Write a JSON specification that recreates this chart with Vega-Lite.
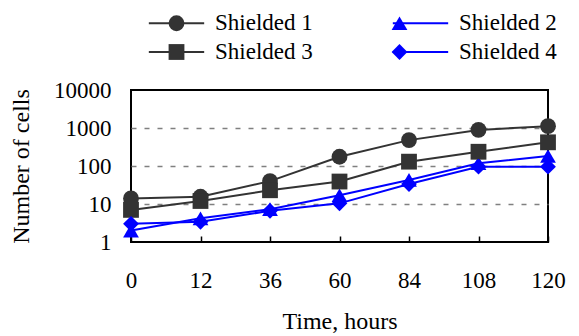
{
  "$schema": "https://vega.github.io/schema/vega-lite/v6.json",
  "autosize": {"type": "none"},
  "padding": {"left": 131, "top": 90, "right": 31, "bottom": 94},
  "width": 417,
  "height": 152,
  "background": "white",
  "config": {
    "view": {"stroke": "black", "strokeWidth": 2},
    "font": "Liberation Serif",
    "axis": {"labelFont": "Liberation Serif", "titleFont": "Liberation Serif", "labelFontSize": 23, "titleFontSize": 24, "titleFontWeight": "normal", "labelColor": "black", "titleColor": "black"}
  },
  "data": {
    "values": [
      {"time": 0, "series": "Shielded 1", "cells": 14},
      {"time": 12, "series": "Shielded 1", "cells": 15.5},
      {"time": 36, "series": "Shielded 1", "cells": 40},
      {"time": 60, "series": "Shielded 1", "cells": 175},
      {"time": 84, "series": "Shielded 1", "cells": 480},
      {"time": 108, "series": "Shielded 1", "cells": 890},
      {"time": 120, "series": "Shielded 1", "cells": 1120},
      {"time": 0, "series": "Shielded 2", "cells": 2},
      {"time": 12, "series": "Shielded 2", "cells": 4.2},
      {"time": 36, "series": "Shielded 2", "cells": 7.3},
      {"time": 60, "series": "Shielded 2", "cells": 17},
      {"time": 84, "series": "Shielded 2", "cells": 43},
      {"time": 108, "series": "Shielded 2", "cells": 118},
      {"time": 120, "series": "Shielded 2", "cells": 183},
      {"time": 0, "series": "Shielded 3", "cells": 7},
      {"time": 12, "series": "Shielded 3", "cells": 12},
      {"time": 36, "series": "Shielded 3", "cells": 23},
      {"time": 60, "series": "Shielded 3", "cells": 39},
      {"time": 84, "series": "Shielded 3", "cells": 130},
      {"time": 108, "series": "Shielded 3", "cells": 237},
      {"time": 120, "series": "Shielded 3", "cells": 420},
      {"time": 0, "series": "Shielded 4", "cells": 3},
      {"time": 12, "series": "Shielded 4", "cells": 3.4},
      {"time": 36, "series": "Shielded 4", "cells": 6.6},
      {"time": 60, "series": "Shielded 4", "cells": 10.4},
      {"time": 84, "series": "Shielded 4", "cells": 33.5},
      {"time": 108, "series": "Shielded 4", "cells": 96},
      {"time": 120, "series": "Shielded 4", "cells": 96}
    ]
  },
  "encoding": {
    "x": {
      "field": "time", "type": "ordinal",
      "scale": {"type": "point", "padding": 0},
      "axis": {"title": "Time, hours", "labelAngle": 0, "domain": false, "grid": false, "tickSize": -6, "tickColor": "black", "tickWidth": 1.5, "labelPadding": 33, "titlePadding": 17}
    },
    "y": {
      "field": "cells", "type": "quantitative",
      "scale": {"type": "log", "domain": [1, 10000], "nice": false},
      "axis": {"title": "Number of cells", "values": [1, 10, 100, 1000, 10000], "format": "d", "domain": false, "ticks": false, "labelPadding": 20, "titlePadding": 20, "grid": true, "gridColor": "#808080", "gridDash": [5, 8], "gridWidth": 1.5,
        "gridOpacity": {"condition": {"test": "datum.value == 1 || datum.value == 10000", "value": 0}, "value": 1}}
    }
  },
  "layer": [
    {
      "mark": {"type": "line", "strokeWidth": 2},
      "encoding": {
        "stroke": {
          "field": "series", "type": "nominal",
          "scale": {"range": ["#333333", "#0000ff", "#333333", "#0000ff"]},
          "legend": {"orient": "none", "direction": "horizontal", "legendX": 34, "legendY": -78.5, "columns": 2, "title": null, "symbolType": "M-3.5,0H3.5", "symbolSize": 250, "symbolStrokeWidth": 2, "labelFont": "Liberation Serif", "labelFontSize": 23, "labelColor": "black", "labelOffset": 27, "columnPadding": 75, "rowPadding": 5}
        }
      }
    },
    {
      "mark": {"type": "point", "filled": true, "size": 250, "opacity": 1},
      "encoding": {
        "fill": {
          "field": "series", "type": "nominal",
          "scale": {"domain": ["Shielded 1", "Shielded 2", "Shielded 3", "Shielded 4"], "range": ["#333333", "#0000ff", "#333333", "#0000ff"]},
          "legend": {"orient": "none", "direction": "horizontal", "legendX": 34, "legendY": -78.5, "columns": 2, "title": null, "symbolSize": 250, "symbolStrokeWidth": 0, "symbolOpacity": 1, "labelFont": "Liberation Serif", "labelFontSize": 23, "labelOpacity": 0, "labelOffset": 27, "columnPadding": 75, "rowPadding": 5}
        },
        "shape": {
          "field": "series", "type": "nominal",
          "scale": {"domain": ["Shielded 1", "Shielded 2", "Shielded 3", "Shielded 4"], "range": ["circle", "triangle-up", "square", "diamond"]},
          "legend": {"orient": "none", "direction": "horizontal", "legendX": 34, "legendY": -78.5, "columns": 2, "title": null, "symbolSize": 250, "symbolStrokeWidth": 0, "labelFont": "Liberation Serif", "labelFontSize": 23, "labelOpacity": 0, "labelOffset": 27, "columnPadding": 75, "rowPadding": 5}
        }
      }
    }
  ]
}
